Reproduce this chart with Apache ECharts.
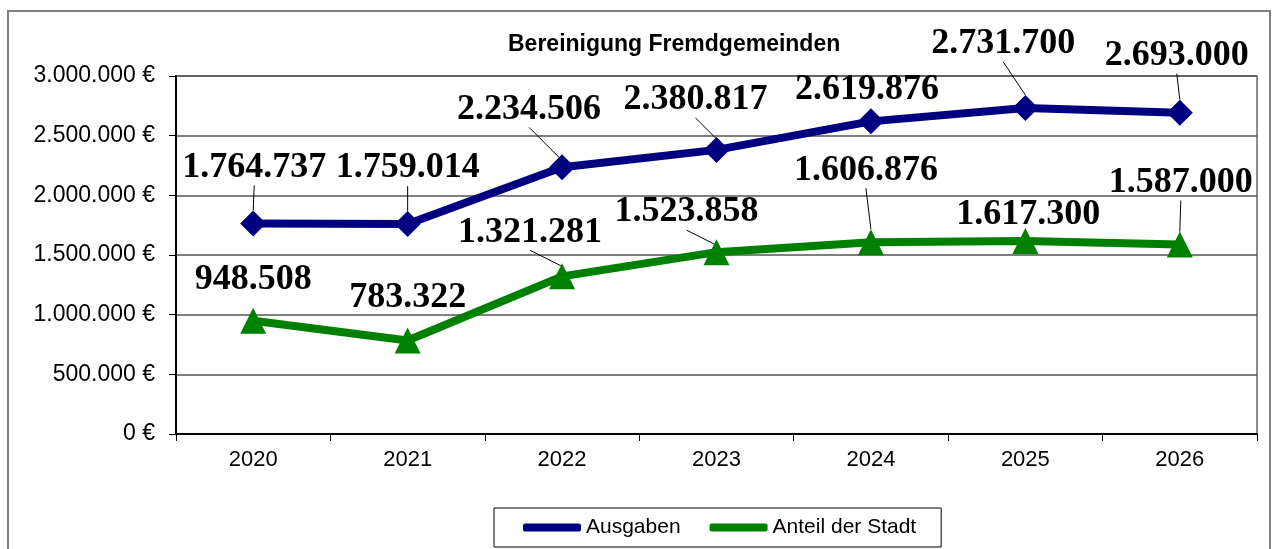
<!DOCTYPE html>
<html>
<head>
<meta charset="utf-8">
<script src="https://cdn.jsdelivr.net/npm/echarts@6/dist/echarts.min.js"></script>
<style>
  html, body { margin: 0; padding: 0; background: #fff; }
  #chart { width: 1277px; height: 549px; }
</style>
</head>
<body>
<div id="chart"></div>
<script>
var years = ['2020', '2021', '2022', '2023', '2024', '2025', '2026'];
var ausgaben = [1764737, 1759014, 2234506, 2380817, 2619876, 2731700, 2693000];
var anteil = [948508, 783322, 1321281, 1523858, 1606876, 1617300, 1587000];

// label offsets from the point (px) and whether a leader line is drawn
var shiftAusgaben = [[1, -56], [0, -56], [-33, -58], [-21, -50], [-4, -32], [-22, -64], [-3, -57]];
var shiftAnteil = [[0, -41], [0, -43], [-32, -44], [-30, -40], [-5, -72], [3, -26], [1, -62]];
var leaderAusgaben = [true, true, true, true, false, true, true];
var leaderAnteil = [false, false, true, true, true, false, true];
var shifts = [shiftAusgaben, shiftAnteil];

function dots(v) {
    return String(v).replace(/\B(?=(\d{3})+(?!\d))/g, '.');
}

function points(values, leaders) {
    return values.map(function (v, i) {
        return { value: v, labelLine: { show: leaders[i] } };
    });
}

var myChart = echarts.init(document.getElementById('chart'));

var label = {
    show: true,
    position: 'inside',
    fontFamily: 'Liberation Serif',
    fontWeight: 'bold',
    fontSize: 36,
    color: '#000',
    formatter: function (p) { return dots(p.value); }
};

var option = {
    animation: false,
    title: {
        text: 'Bereinigung Fremdgemeinden',
        left: 503,
        top: 28,
        textStyle: {
            fontFamily: 'Liberation Sans',
            fontWeight: 'bold',
            fontSize: 23,
            color: '#000'
        }
    },
    graphic: [{
        type: 'rect',
        shape: { x: 8, y: 11, width: 1262, height: 560 },
        style: { fill: 'none', stroke: '#808080', lineWidth: 2 },
        silent: true
    }],
    legend: {
        left: 494,
        top: 508,
        padding: [9, 25, 9, 29],
        itemGap: 29,
        itemWidth: 58,
        itemHeight: 8,
        icon: 'roundRect',
        borderColor: '#000',
        borderWidth: 1,
        textStyle: {
            fontFamily: 'Liberation Sans',
            fontSize: 21,
            color: '#000'
        },
        data: ['Ausgaben', 'Anteil der Stadt']
    },
    grid: {
        left: 176,
        top: 76,
        right: 20,
        bottom: 115,
        show: true,
        borderColor: '#8c8c8c',
        borderWidth: 2
    },
    xAxis: {
        type: 'category',
        data: years,
        boundaryGap: true,
        axisLine: { lineStyle: { color: '#000', width: 2 } },
        axisTick: { show: true, length: 7, lineStyle: { color: '#000', width: 1 } },
        axisLabel: {
            margin: 15,
            fontFamily: 'Liberation Sans',
            fontSize: 22,
            color: '#000'
        }
    },
    yAxis: {
        type: 'value',
        min: 0,
        max: 3000000,
        interval: 500000,
        axisLine: { show: true, lineStyle: { color: '#000', width: 2 } },
        axisTick: { show: true, length: 7, lineStyle: { color: '#000', width: 1 } },
        splitLine: { lineStyle: { color: '#555', width: 1.5 } },
        axisLabel: {
            margin: 21,
            fontFamily: 'Liberation Sans',
            fontSize: 23,
            color: '#000',
            formatter: function (v) { return dots(v) + ' €'; }
        }
    },
    series: [{
        name: 'Ausgaben',
        type: 'line',
        data: points(ausgaben, leaderAusgaben),
        symbol: 'diamond',
        symbolSize: 26,
        itemStyle: { color: '#000080' },
        lineStyle: { color: '#000080', width: 8 },
        label: label,
        labelLine: { show: true, lineStyle: { color: '#000', width: 1 } }
    }, {
        name: 'Anteil der Stadt',
        type: 'line',
        data: points(anteil, leaderAnteil),
        symbol: 'triangle',
        symbolSize: 26,
        itemStyle: { color: '#008000' },
        lineStyle: { color: '#008000', width: 8 },
        label: label,
        labelLine: { show: true, lineStyle: { color: '#000', width: 1 } }
    }],
    labelLayout: function (p) {
        var s = shifts[p.seriesIndex][p.dataIndex];
        return { dx: s[0], dy: s[1] };
    }
};

myChart.setOption(option);
</script>
</body>
</html>
